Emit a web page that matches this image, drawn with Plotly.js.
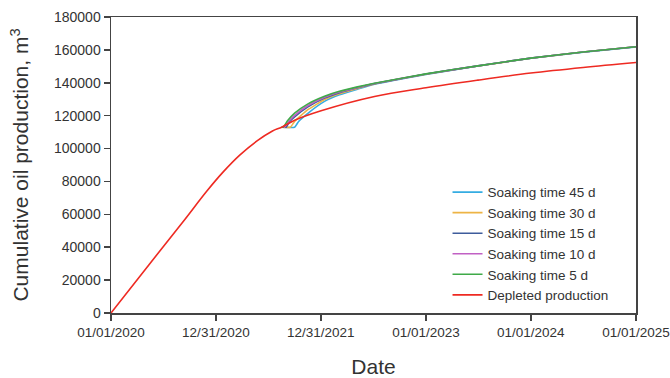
<!DOCTYPE html>
<html>
<head>
<meta charset="utf-8">
<script src="https://cdn.plot.ly/plotly-3.0.1.min.js"></script>
<style>
  html, body { margin: 0; padding: 0; background: #fff; }
  #chart { width: 670px; height: 378px; }
</style>
</head>
<body>
<div id="chart"></div>
<script>
// Cumulative oil production: huff-n-puff with different soaking times vs. depletion

// Depleted production
const depletedDates = ['2020-01-01', '2020-05-15', '2020-09-07', '2020-11-29', '2021-01-24', '2021-03-24',
  '2021-05-22', '2021-07-16', '2021-08-17', '2021-10-01', '2022-01-01', '2022-07-06',
  '2023-01-01', '2023-07-01', '2024-01-01', '2024-07-01', '2025-01-01'];
const depletedValues = [0, 30000, 55300, 74000, 85500, 96000,
  104500, 110700, 113000, 117200, 123000, 131700,
  137000, 141600, 145900, 149300, 152300];

// Soaking time 5 d
const soak5Dates = ['2021-08-17', '2021-08-22', '2021-09-07', '2021-10-01', '2021-11-15', '2022-01-13',
  '2022-03-06', '2022-05-08', '2022-07-06', '2023-01-01', '2023-07-01', '2024-01-01',
  '2024-07-01', '2025-01-01'];
const soak5Values = [113000, 113000, 117000, 121500, 127000, 131800,
  134800, 137500, 139700, 145400, 150300, 155000,
  158700, 161900];

// Soaking time 10 d
const soak10Dates = ['2021-08-17', '2021-08-27', '2021-09-13', '2021-10-01', '2021-11-15', '2022-01-13',
  '2022-03-06', '2022-05-08', '2022-07-06', '2023-01-01', '2023-07-01', '2024-01-01',
  '2024-07-01', '2025-01-01'];
const soak10Values = [113000, 113000, 117000, 120200, 126000, 131200,
  134400, 137200, 139600, 145300, 150300, 155000,
  158700, 161900];

// Soaking time 15 d
const soak15Dates = ['2021-08-17', '2021-09-01', '2021-09-13', '2021-10-01', '2021-11-15', '2022-01-13',
  '2022-03-06', '2022-05-08', '2022-07-06', '2023-01-01', '2023-07-01', '2024-01-01',
  '2024-07-01', '2025-01-01'];
const soak15Values = [113000, 113000, 116300, 119300, 125200, 130700,
  134000, 137000, 139500, 145300, 150300, 155000,
  158700, 161900];

// Soaking time 30 d
const soak30Dates = ['2021-08-17', '2021-09-16', '2021-10-01', '2021-11-15', '2022-01-13', '2022-03-06',
  '2022-05-08', '2022-07-06', '2023-01-01', '2023-07-01', '2024-01-01', '2024-07-01',
  '2025-01-01'];
const soak30Values = [113000, 113000, 116500, 123500, 129800, 133400,
  136600, 139300, 145200, 150200, 154900, 158700,
  161900];

// Soaking time 45 d
const soak45Dates = ['2021-08-17', '2021-10-01', '2021-10-15', '2021-11-15', '2022-01-13', '2022-03-06',
  '2022-05-08', '2022-07-06', '2023-01-01', '2023-07-01', '2024-01-01', '2024-07-01',
  '2025-01-01'];
const soak45Values = [113000, 113000, 116500, 121300, 128700, 132700,
  136100, 139100, 145100, 150200, 154900, 158600,
  161800];

// Axis ticks
const xTickVals = ['2020-01-01', '2020-12-31', '2021-12-31', '2023-01-01', '2024-01-01', '2025-01-01'];
const xTickText = ['01/01/2020', '12/31/2020', '12/31/2021', '01/01/2023', '01/01/2024', '01/01/2025'];

const seriesDefs = [
  { name: 'Soaking time 45 d', x: soak45Dates, y: soak45Values, color: '#35ACE2' },
  { name: 'Soaking time 30 d', x: soak30Dates, y: soak30Values, color: '#EDB445' },
  { name: 'Soaking time 15 d', x: soak15Dates, y: soak15Values, color: '#3E5C9C' },
  { name: 'Soaking time 10 d', x: soak10Dates, y: soak10Values, color: '#C160C4' },
  { name: 'Soaking time 5 d',  x: soak5Dates,  y: soak5Values,  color: '#3FAA48' },
  { name: 'Depleted production', x: depletedDates, y: depletedValues, color: '#EE2A22' }
];

const traces = seriesDefs.map((s, i) => ({
  type: 'scatter',
  mode: 'lines',
  name: s.name,
  x: s.x,
  y: s.y,
  line: {
    color: s.color,
    width: 1.6,
    shape: 'spline',
    smoothing: i === seriesDefs.length - 1 ? 1 : 0.4
  }
}));

const fontFamily = 'Liberation Sans, Arial, sans-serif';
const axisFont = { family: fontFamily, size: 14, color: '#333333' };
const xTickFont = { family: fontFamily, size: 13.5, color: '#333333' };
const titleFont = { family: fontFamily, size: 21, color: '#333333' };

const layout = {
  width: 670,
  height: 378,
  margin: { l: 111, r: 34, t: 17, b: 65 },
  paper_bgcolor: '#ffffff',
  plot_bgcolor: '#ffffff',
  font: axisFont,
  showlegend: true,
  legend: {
    x: 0.641, y: 0.46, xanchor: 'left', yanchor: 'top',
    bgcolor: 'rgba(0,0,0,0)',
    font: { family: fontFamily, size: 13.5, color: '#333333' }
  },
  xaxis: {
    type: 'date',
    range: ['2020-01-01', '2025-01-01'],
    tickmode: 'array',
    tickvals: xTickVals,
    ticktext: xTickText,
    ticklabeloverflow: 'allow',
    ticks: 'outside',
    ticklen: 6,
    tickwidth: 1.5,
    tickcolor: '#444444',
    showline: true,
    linecolor: '#444444',
    linewidth: 1.5,
    mirror: true,
    showgrid: false,
    zeroline: false,
    tickfont: xTickFont,
    title: { text: 'Date', font: titleFont, standoff: 20 }
  },
  yaxis: {
    range: [0, 180000],
    dtick: 20000,
    tick0: 0,
    tickformat: 'd',
    ticks: 'outside',
    ticklen: 6,
    tickwidth: 1.5,
    tickcolor: '#444444',
    showline: true,
    linecolor: '#444444',
    linewidth: 1.5,
    mirror: true,
    showgrid: false,
    zeroline: false,
    tickfont: axisFont,
    title: { text: 'Cumulative oil production, m<sup>3</sup>', font: titleFont, standoff: 19 }
  }
};

Plotly.newPlot('chart', traces, layout, { displayModeBar: false, staticPlot: true });
</script>
</body>
</html>
